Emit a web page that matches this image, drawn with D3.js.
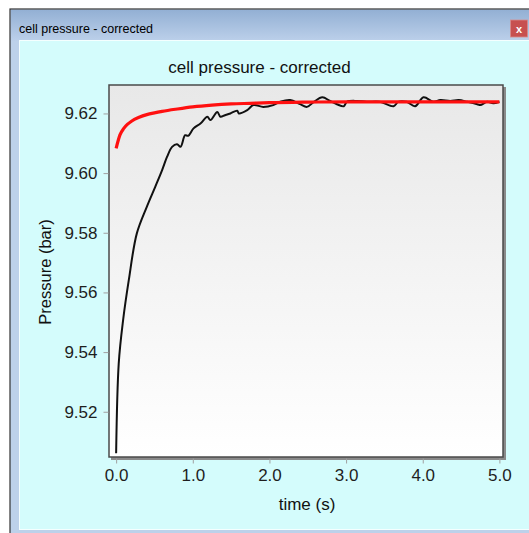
<!DOCTYPE html>
<html>
<head>
<meta charset="utf-8">
<script src="https://cdn.jsdelivr.net/npm/d3@7/dist/d3.min.js"></script>
<style>
  html, body { margin: 0; padding: 0; background: #ffffff; }
  svg { display: block; font-family: "Liberation Sans", Arial, sans-serif; }
</style>
</head>
<body>
<svg id="chart" width="529" height="533"></svg>
<script>
// Measured cell pressure (bar) against time (s)
const measuredTime = [0.0, 0.034, 0.091, 0.165, 0.27, 0.40, 0.51, 0.60, 0.665, 0.73, 0.795, 0.84, 0.90, 0.94, 1.01, 1.10, 1.19, 1.23, 1.32, 1.36, 1.42, 1.49, 1.58, 1.60, 1.71, 1.79, 1.92, 2.05, 2.14, 2.27, 2.40, 2.49, 2.58, 2.69, 2.79, 2.88, 2.97, 3.01, 3.14, 3.27, 3.44, 3.62, 3.68, 3.79, 3.90, 4.01, 4.14, 4.23, 4.36, 4.47, 4.58, 4.71, 4.75, 4.84, 4.92, 5.0];
const measuredPressure = [9.5061, 9.5362, 9.5507, 9.5641, 9.5798, 9.5887, 9.5954, 9.6010, 9.6055, 9.6088, 9.6097, 9.6088, 9.6127, 9.6125, 9.6150, 9.6166, 9.6189, 9.6178, 9.6205, 9.6189, 9.6194, 9.6200, 9.6209, 9.6200, 9.6211, 9.6228, 9.6222, 9.6228, 9.6239, 9.6245, 9.6231, 9.6222, 9.6239, 9.6254, 9.6242, 9.6231, 9.6224, 9.6239, 9.6242, 9.6239, 9.6239, 9.6224, 9.6239, 9.6239, 9.6224, 9.6254, 9.6239, 9.6245, 9.6242, 9.6245, 9.6239, 9.6231, 9.6228, 9.6239, 9.6234, 9.6239];

// Corrected (fitted) cell pressure
const correctedTime = [0.0, 0.05, 0.1, 0.15, 0.2, 0.3, 0.4, 0.5, 0.6, 0.8, 1.0, 1.25, 1.5, 1.75, 2.0, 2.5, 3.0, 3.5, 4.0, 4.5, 5.0];
const correctedPressure = [9.6083, 9.6128, 9.6150, 9.6164, 9.6174, 9.6187, 9.6196, 9.6202, 9.6207, 9.6215, 9.6222, 9.6228, 9.6232, 9.6234, 9.6236, 9.6238, 9.6239, 9.6239, 9.6239, 9.6239, 9.6239];

const xTicks = [0, 1, 2, 3, 4, 5];
const yTicks = [9.52, 9.54, 9.56, 9.58, 9.60, 9.62];

const chartTitle = "cell pressure - corrected";
const xLabel = "time (s)";
const yLabel = "Pressure (bar)";

const svg = d3.select("#chart");

// ---- window chrome ----
const defs = svg.append("defs");
const tb = defs.append("linearGradient").attr("id", "titlebar").attr("x1", 0).attr("y1", 0).attr("x2", 0).attr("y2", 1);
tb.append("stop").attr("offset", "0%").attr("stop-color", "#93b0d4");
tb.append("stop").attr("offset", "100%").attr("stop-color", "#bcd0ea");
const pg = defs.append("linearGradient").attr("id", "plotbg").attr("x1", 0).attr("y1", 0).attr("x2", 0).attr("y2", 1);
pg.append("stop").attr("offset", "0%").attr("stop-color", "#e8e8e8");
pg.append("stop").attr("offset", "100%").attr("stop-color", "#ffffff");

svg.append("rect").attr("x", 10).attr("y", 9).attr("width", 530).attr("height", 530)
  .attr("fill", "#bdd1ea").attr("stroke", "#333").attr("stroke-width", 1.2);
svg.append("rect").attr("x", 11).attr("y", 10).attr("width", 520).attr("height", 31).attr("fill", "url(#titlebar)");
svg.append("rect").attr("x", 19).attr("y", 40).attr("width", 520).attr("height", 490).attr("fill", "#f4ffff");
svg.append("rect").attr("x", 20).attr("y", 41).attr("width", 520).attr("height", 488).attr("fill", "#d4fcfc");

svg.append("text").attr("x", 19).attr("y", 33).attr("font-size", 12.5).attr("fill", "#000")
  .text(chartTitle);

// close button
svg.append("rect").attr("x", 510.5).attr("y", 20).attr("width", 17).attr("height", 17)
  .attr("fill", "#c75050").attr("stroke", "#d98a8a").attr("stroke-width", 0.8);
svg.append("text").attr("x", 519).attr("y", 32.5).attr("text-anchor", "middle")
  .attr("font-size", 11).attr("font-weight", "bold").attr("fill", "#fff").text("x");

// ---- plot ----
const plot = { left: 110, right: 504, top: 86, bottom: 458 };

const x = d3.scaleLinear().domain([-0.08, 5.06]).range([plot.left, plot.right]);
const y = d3.scaleLinear().domain([9.5045, 9.6292]).range([plot.bottom, plot.top]);

// shadow + background + frame
svg.append("rect").attr("x", plot.left + 1).attr("y", plot.top + 1)
  .attr("width", plot.right - plot.left + 1).attr("height", plot.bottom - plot.top + 1)
  .attr("fill", "#8a8a8a");
svg.append("rect").attr("x", plot.left - 1).attr("y", plot.top - 1)
  .attr("width", plot.right - plot.left).attr("height", plot.bottom - plot.top)
  .attr("fill", "url(#plotbg)").attr("stroke", "#4a4a4a").attr("stroke-width", 1.5);

// axes
const xAxis = d3.axisBottom(x).tickValues(xTicks).tickFormat(d3.format(".1f"))
  .tickSize(5).tickPadding(5);
const gx = svg.append("g").attr("transform", `translate(0,${plot.bottom + 0.5})`).call(xAxis);
gx.select(".domain").remove();
gx.selectAll(".tick line").attr("stroke", "#a0a0a0");
gx.selectAll(".tick text").attr("font-size", 17).attr("fill", "#1e1e1e")
  .attr("font-family", "'Liberation Sans', Arial, sans-serif").attr("dy", "0.71em");

const yAxis = d3.axisLeft(y).tickValues(yTicks).tickFormat(d3.format(".2f"))
  .tickSize(5).tickPadding(6);
const gy = svg.append("g").attr("transform", `translate(${plot.left - 1.5},0)`).call(yAxis);
gy.select(".domain").remove();
gy.selectAll(".tick line").attr("stroke", "#a0a0a0");
gy.selectAll(".tick text").attr("font-size", 17).attr("fill", "#1e1e1e")
  .attr("font-family", "'Liberation Sans', Arial, sans-serif");

// lines
const clip = defs.append("clipPath").attr("id", "plotclip");
clip.append("rect").attr("x", plot.left).attr("y", plot.top)
  .attr("width", plot.right - plot.left - 2).attr("height", plot.bottom - plot.top - 2);

const measured = measuredTime.map((t, i) => [t, measuredPressure[i]]);
const corrected = correctedTime.map((t, i) => [t, correctedPressure[i]]);

const lineGen = d3.line().x(d => x(d[0])).y(d => y(d[1]));

svg.append("path").datum(measured).attr("clip-path", "url(#plotclip)")
  .attr("d", lineGen.curve(d3.curveCatmullRom.alpha(0.5)))
  .attr("fill", "none").attr("stroke", "#111").attr("stroke-width", 2)
  .attr("stroke-linejoin", "round");

svg.append("path").datum(corrected).attr("clip-path", "url(#plotclip)")
  .attr("d", d3.line().x(d => x(d[0])).y(d => y(d[1])).curve(d3.curveMonotoneX))
  .attr("fill", "none").attr("stroke", "#ff1010").attr("stroke-width", 3.2)
  .attr("stroke-linejoin", "round");

// titles
svg.append("text").attr("x", 259.5).attr("y", 73).attr("text-anchor", "middle")
  .attr("font-size", 17).attr("fill", "#111").text(chartTitle);
svg.append("text").attr("x", 307).attr("y", 510).attr("text-anchor", "middle")
  .attr("font-size", 17).attr("fill", "#111").text(xLabel);
svg.append("text").attr("transform", "translate(51,272) rotate(-90)").attr("text-anchor", "middle")
  .attr("font-size", 16.5).attr("fill", "#111").text(yLabel);
</script>
</body>
</html>
